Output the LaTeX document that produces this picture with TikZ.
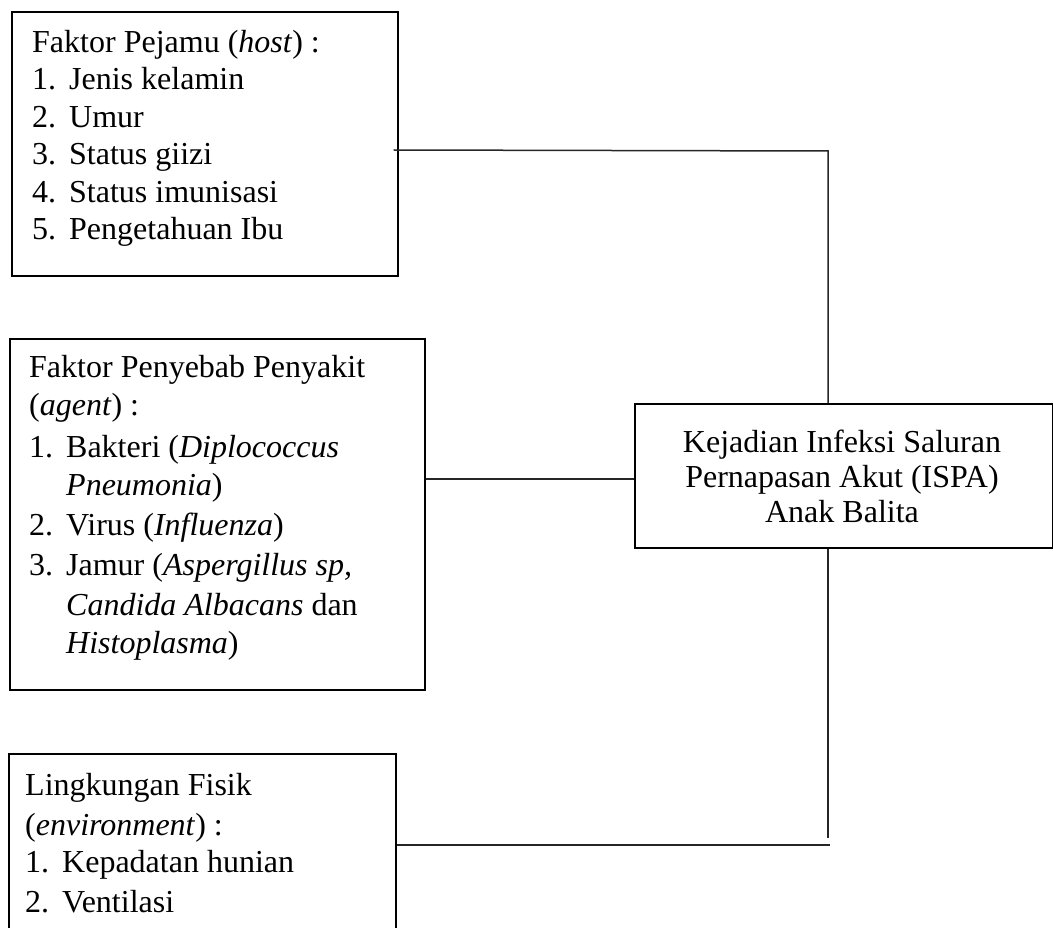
\documentclass[tikz,border=0pt]{standalone}
\usepackage{fontspec}
\setmainfont{Liberation Serif}
\begin{document}
\begin{tikzpicture}[x=1pt,y=-1pt,
  box/.style={draw=black,line width=1.6pt,rectangle,inner sep=0pt,anchor=north west},
  txt/.style={inner sep=0pt,anchor=base west,font=\fontsize{32}{38}\selectfont},
  ctxt/.style={inner sep=0pt,anchor=base,font=\fontsize{32}{38}\selectfont},
  conn/.style={draw=black!85,line width=1.5pt}]
\useasboundingbox (0,0) rectangle (1053,928);
\clip (0,0) rectangle (1053,928);
\newcommand{\itm}[2]{\makebox[37pt][l]{#1}#2}
% boxes
\node[box,minimum width=386pt,minimum height=264pt] (host) at (11,11) {};
\node[box,minimum width=415pt,minimum height=351pt] (agent) at (9,338) {};
\node[box,minimum width=387pt,minimum height=200pt] (env) at (8,753) {};
\node[box,minimum width=418pt,minimum height=144pt] (ispa) at (634,403) {};
% host text
\node[txt] (h0) at (32,53) {Faktor Pejamu (\textit{host}) :};
\node[txt] (h1) at (32,90) {\itm{1.}{Jenis kelamin}};
\node[txt] (h2) at (32,128) {\itm{2.}{Umur}};
\node[txt] (h3) at (32,165) {\itm{3.}{Status giizi}};
\node[txt] (h4) at (32,203) {\itm{4.}{Status imunisasi}};
\node[txt] (h5) at (32,240) {\itm{5.}{Pengetahuan Ibu}};
% agent text
\node[txt] (a0) at (29,377) {Faktor Penyebab Penyakit};
\node[txt] (a1) at (29,415) {(\textit{agent}) :};
\node[txt] (a2) at (29,457) {\itm{1.}{Bakteri (\textit{Diplococcus}}};
\node[txt] (a3) at (29,495) {\itm{}{\textit{Pneumonia})}};
\node[txt] (a4) at (29,535) {\itm{2.}{Virus (\textit{Influenza})}};
\node[txt] (a5) at (29,575) {\itm{3.}{Jamur (\textit{Aspergillus sp,}}};
\node[txt] (a6) at (29,615) {\itm{}{\textit{Candida Albacans} dan}};
\node[txt] (a7) at (29,653) {\itm{}{\textit{Histoplasma})}};
% env text
\node[txt] (e0) at (25,795) {Lingkungan Fisik};
\node[txt] (e1) at (25,835) {(\textit{environment}) :};
\node[txt] (e2) at (25,872) {\itm{1.}{Kepadatan hunian}};
\node[txt] (e3) at (25,912) {\itm{2.}{Ventilasi}};
% ispa text
\node[ctxt] (i0) at (842,452) {Kejadian Infeksi Saluran};
\node[ctxt] (i1) at (842,487) {Pernapasan Akut (ISPA)};
\node[ctxt] (i2) at (842,522) {Anak Balita};
% connector coordinates
\coordinate (hs) at ([xshift=-5pt]host.east |- 0,150);
\coordinate (hk) at (828,151);
\coordinate (ec) at (828,838);
\coordinate (es) at (env.east |- 0,845);
\coordinate (ee) at (830,845);
% connectors
\draw[conn] (hs) -- (hk) -- (828,0 |- ispa.north);
\draw[conn] (agent.east |- 0,479) -- (ispa.west |- 0,479);
\draw[conn] (828,0 |- ispa.south) -- (ec);
\draw[conn] (es) -- (ee);
\end{tikzpicture}
\end{document}
